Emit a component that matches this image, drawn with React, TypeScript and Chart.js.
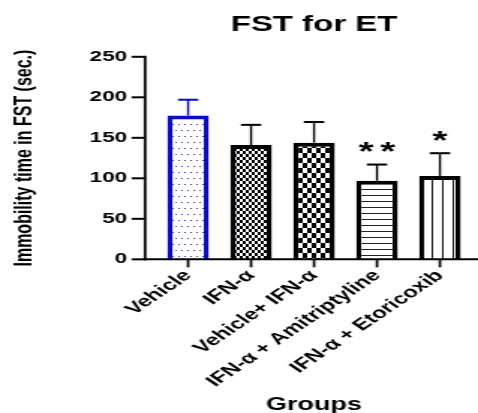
import React, { useEffect, useRef } from "react";
import { Chart, registerables } from "chart.js";

Chart.register(...registerables);

// ---------------- data ----------------
const categories = ["Vehicle", "IFN-α", "Vehicle+ IFN-α", "IFN-α + Amitriptyline", "IFN-α + Etoricoxib"];
const means = [177.5, 141, 144, 97, 103];
const errors = [19.5, 25, 25.5, 20, 28];
const significance = ["", "", "", "**", "*"];
const yMin = 0;
const yMax = 250;
const yStep = 50;
const titleText = "FST for ET";
const yAxisTitle = "Immobility time in FST (sec.)";
const xAxisTitle = "Groups";

// ---------------- styles ----------------
const LOGICAL_W = 319;
const H = 413;
const DISPLAY_W = 478;
const FONT = "'Liberation Sans', Arial, Helvetica, sans-serif";
const BLUE = "#0a0ac8";
const AXIS_GAP = 7.7;

export default function App() {
  const ref = useRef<HTMLCanvasElement | null>(null);

  useEffect(() => {
    document.body.style.margin = "0";
    const canvas = ref.current!;
    const ctx0 = canvas.getContext("2d")!;

    const makePattern = (w: number, h: number, draw: (g: CanvasRenderingContext2D) => void) => {
      const c = document.createElement("canvas");
      c.width = w;
      c.height = h;
      const g = c.getContext("2d")!;
      g.fillStyle = "#ffffff";
      g.fillRect(0, 0, w, h);
      draw(g);
      return ctx0.createPattern(c, "repeat")!;
    };

    const patterns = [
      makePattern(4, 12, (g) => {
        g.fillStyle = "#3535d0";
        g.fillRect(1, 2, 1, 1);
        g.fillRect(3, 8, 1, 1);
      }),
      makePattern(4, 6, (g) => {
        g.fillStyle = "#000";
        g.fillRect(0, 0, 2, 3);
        g.fillRect(2, 3, 2, 3);
      }),
      makePattern(6, 10, (g) => {
        g.fillStyle = "#000";
        g.fillRect(0, 0, 3, 5);
        g.fillRect(3, 5, 3, 5);
      }),
      makePattern(4, 6, (g) => {
        g.fillStyle = "#222";
        g.fillRect(0, 2, 4, 1);
      }),
      makePattern(7, 4, (g) => {
        g.fillStyle = "#111";
        g.fillRect(1, 0, 1, 4);
      }),
    ];

    const alignPatterns = {
      id: "alignPatterns",
      beforeDatasetsDraw(chart: any) {
        const meta = chart.getDatasetMeta(0);
        meta.data.forEach((el: any, i: number) => {
          const p: any = patterns[i];
          if (p && p.setTransform) {
            p.setTransform(new DOMMatrix([1, 0, 0, 1, Math.round(el.x - el.width / 2), Math.round(el.y)]));
          }
        });
      },
    };

    const decorations = {
      id: "decorations",
      afterDatasetsDraw(chart: any) {
        const ctx = chart.ctx as CanvasRenderingContext2D;
        const { chartArea } = chart;
        const y = chart.scales.y;
        const meta = chart.getDatasetMeta(0);
        const axisX = chartArea.left - AXIS_GAP;
        const baseY = y.getPixelForValue(0);
        const topY = y.getPixelForValue(yMax);
        ctx.save();
        // error bars and significance marks
        meta.data.forEach((el: any, i: number) => {
          const col = i === 0 ? BLUE : "#000";
          const ey = y.getPixelForValue(means[i] + errors[i]);
          ctx.strokeStyle = col;
          ctx.lineWidth = 1.4;
          ctx.beginPath();
          ctx.moveTo(el.x, el.y);
          ctx.lineTo(el.x, ey);
          ctx.stroke();
          ctx.lineWidth = 2;
          ctx.beginPath();
          ctx.moveTo(el.x - 6.8, ey);
          ctx.lineTo(el.x + 6.8, ey);
          ctx.stroke();
          const s = significance[i];
          if (s) {
            ctx.fillStyle = "#000";
            ctx.font = `bold 26px ${FONT}`;
            ctx.textAlign = "center";
            ctx.textBaseline = "alphabetic";
            const m = ctx.measureText("*");
            const cy = ey - 17.5;
            const by = cy + (m.actualBoundingBoxAscent - m.actualBoundingBoxDescent) / 2;
            const n = s.length;
            for (let k = 0; k < n; k++) {
              const cx = el.x + (k - (n - 1) / 2) * 14.5;
              ctx.fillText("*", cx, by);
            }
          }
        });
        // axis lines
        ctx.strokeStyle = "#000";
        ctx.lineWidth = 1.8;
        ctx.beginPath();
        ctx.moveTo(axisX, topY - 1);
        ctx.lineTo(axisX, baseY + 1);
        ctx.stroke();
        ctx.lineWidth = 2;
        ctx.beginPath();
        ctx.moveTo(axisX - 1, baseY);
        ctx.lineTo(chart.width, baseY);
        ctx.stroke();
        // y tick marks
        for (let v = yMin; v <= yMax; v += yStep) {
          const py = y.getPixelForValue(v);
          ctx.beginPath();
          ctx.moveTo(axisX - 9, py);
          ctx.lineTo(axisX, py);
          ctx.stroke();
        }
        // x tick marks
        ctx.lineWidth = 1.7;
        meta.data.forEach((el: any) => {
          ctx.beginPath();
          ctx.moveTo(el.x, baseY);
          ctx.lineTo(el.x, baseY + 8);
          ctx.stroke();
        });
        ctx.restore();
      },
    };

    Chart.defaults.font.family = FONT;
    Chart.defaults.color = "#000";

    const chart = new Chart(canvas, {
      type: "bar",
      data: {
        labels: categories,
        datasets: [
          {
            data: means,
            backgroundColor: patterns as any,
            borderColor: [BLUE, "#000", "#000", "#000", "#000"],
            borderWidth: { top: 4, left: 3.5, right: 3.5, bottom: 0 } as any,
            borderSkipped: "start",
            barPercentage: 0.66,
            categoryPercentage: 1,
          },
        ],
      },
      options: {
        responsive: false,
        maintainAspectRatio: false,
        devicePixelRatio: 1,
        animation: false,
        layout: { padding: { left: 0, right: 4.4, top: 0, bottom: 0 } },
        plugins: {
          legend: { display: false },
          tooltip: { enabled: false },
          title: {
            display: true,
            text: titleText,
            fullSize: false,
            font: { size: 22, weight: "bold" },
            color: "#000",
            padding: { top: 12, bottom: 18.4 },
          },
        },
        scales: {
          x: {
            offset: true,
            grid: { display: false, drawTicks: false },
            border: { display: false },
            ticks: {
              autoSkip: false,
              minRotation: 45,
              maxRotation: 45,
              padding: 7,
              font: { size: 16, weight: "bold" },
              color: "#000",
            },
            title: {
              display: true,
              text: xAxisTitle,
              font: { size: 18, weight: "bold" },
              color: "#000",
              padding: { top: -3.5, bottom: -3 },
            },
          },
          y: {
            min: yMin,
            max: yMax,
            grid: { display: false, drawTicks: false },
            border: { display: false },
            ticks: {
              stepSize: yStep,
              padding: 19.7,
              font: { size: 15, weight: "bold" },
              color: "#000",
            },
            title: {
              display: true,
              text: yAxisTitle,
              font: { size: 16, weight: "bold" },
              color: "#000",
              padding: { top: 7.1, bottom: 13.8 },
            },
          },
        },
      },
      plugins: [alignPatterns, decorations],
    });
    canvas.style.width = DISPLAY_W + "px";
    canvas.style.height = H + "px";

    return () => chart.destroy();
  }, []);

  return (
    <div style={{ width: DISPLAY_W, height: H, overflow: "hidden", background: "#fff" }}>
      <canvas ref={ref} width={LOGICAL_W} height={H} style={{ width: DISPLAY_W, height: H, display: "block" }} />
    </div>
  );
}
